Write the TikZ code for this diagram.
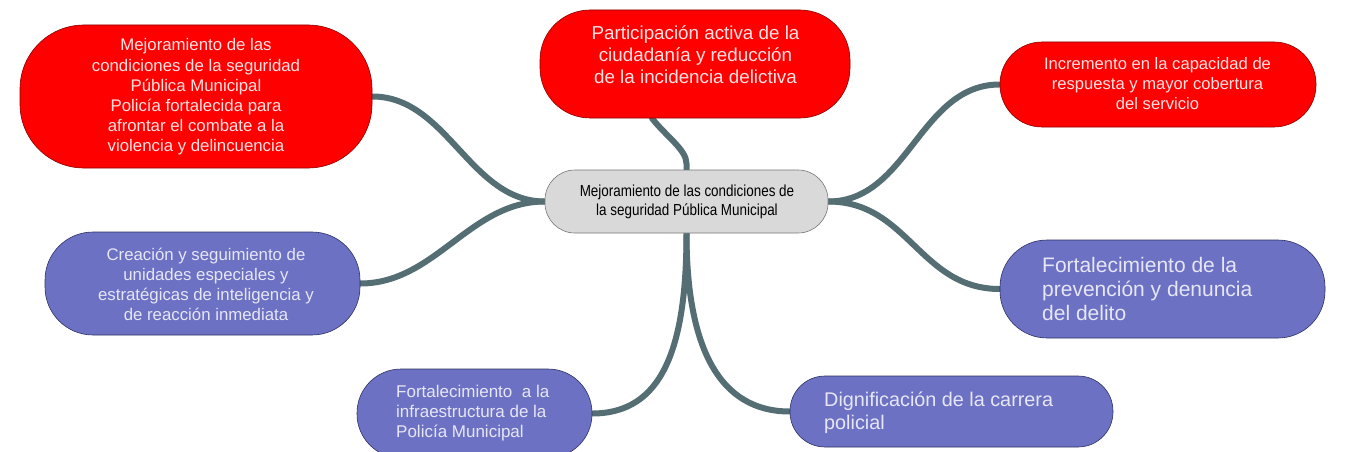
\documentclass[tikz,border=0pt]{standalone}
\usepackage{fontspec}
\setmainfont{Liberation Sans}
\newfontfamily\condfont[FakeStretch=0.84]{Liberation Sans}
\usetikzlibrary{backgrounds}
\definecolor{redfill}{HTML}{FF0000}
\definecolor{redline}{HTML}{8A0000}
\definecolor{purfill}{HTML}{6C71C4}
\definecolor{purline}{HTML}{2E3160}
\definecolor{grayfill}{HTML}{D9D9D9}
\definecolor{grayline}{HTML}{777777}
\definecolor{conncol}{HTML}{546E73}
\definecolor{redtxt}{HTML}{FFE2E2}
\definecolor{purtxt}{HTML}{E6E6F5}
\tikzset{
  redbox/.style={draw=redline, fill=redfill, line width=0.6pt, inner sep=0pt},
  purbox/.style={draw=purline, fill=purfill, line width=0.6pt, inner sep=0pt},
  graybox/.style={draw=grayline, fill=grayfill, line width=0.6pt, inner sep=0pt},
  redtext/.style={text=redtxt, align=center, inner sep=0pt},
  purtextc/.style={text=purtxt, align=center, inner sep=0pt},
  purtextl/.style={text=purtxt, align=left, inner sep=0pt, anchor=west},
  conn/.style={draw=conncol, line width=6pt, line cap=round}
}
\begin{document}
\begin{tikzpicture}[x=1pt, y=-1pt]
\useasboundingbox (0,0) rectangle (1350,452);
% boxes
\node[redbox, minimum width=352pt, minimum height=143pt, rounded corners=64pt] (tl) at (196,96.5) {};
\node[redbox, minimum width=310pt, minimum height=108pt, rounded corners=50pt] (tc) at (695,64) {};
\node[redbox, minimum width=316pt, minimum height=85pt, rounded corners=42pt] (tr) at (1158,84.5) {};
\node[graybox, minimum width=283pt, minimum height=63pt, rounded corners=30pt] (c) at (686.5,201.5) {};
\node[purbox, minimum width=315pt, minimum height=103pt, rounded corners=48pt] (lp) at (202.5,283.5) {};
\node[purbox, minimum width=325pt, minimum height=98pt, rounded corners=47pt] (rp) at (1162.5,289) {};
\node[purbox, minimum width=235pt, minimum height=89pt, rounded corners=44pt] (bl) at (474.5,413.5) {};
\node[purbox, minimum width=323pt, minimum height=71pt, rounded corners=35pt] (br) at (951.5,411.5) {};
% texts
\node[redtext, font=\fontsize{16.8}{20.2}\selectfont] (tl-t) at (196,97) {Mejoramiento de las\\condiciones de la seguridad\\Pública Municipal\\Policía fortalecida para\\afrontar el combate a la\\violencia y delincuencia};
\node[redtext, font=\fontsize{18.8}{22}\selectfont] (tc-t) at (695.5,55) {Participación activa de la\\ciudadanía y reducción\\de la incidencia delictiva};
\node[redtext, font=\fontsize{16.6}{20}\selectfont] (tr-t) at (1157.5,84) {Incremento en la capacidad de\\respuesta y mayor cobertura\\del servicio};
\node[align=center, inner sep=0pt, text=black, font=\condfont\fontsize{16}{19}\selectfont] (c-t) at (687,202) {Mejoramiento de las condiciones de\\la seguridad Pública Municipal};
\node[purtextc, font=\fontsize{16.8}{20}\selectfont] (lp-t) at (206,284) {Creación y seguimiento de\\unidades especiales y\\estratégicas de inteligencia y\\de reacción inmediata};
\node[purtextl, font=\fontsize{21}{24}\selectfont] (rp-t) at (1042,289) {Fortalecimiento de la\\prevención y denuncia\\del delito};
\node[purtextl, font=\fontsize{17}{19.8}\selectfont] (bl-t) at (396,413) {Fortalecimiento\ \ a la\\infraestructura de la\\Policía Municipal};
\node[purtextl, font=\fontsize{19.8}{23}\selectfont] (br-t) at (824,412.5) {Dignificación de la carrera\\policial};
% connectors
\begin{scope}[on background layer]
\draw[conn] (c.west) .. controls +(-75,0) and +(75,0) .. (tl.east);
\draw[conn] (c.west) .. controls +(-75,0) and +(75,0) .. (lp.east);
\draw[conn] (c.north) -- ++(0,-6) .. controls +(0,-14) and +(14,18) .. ([xshift=-43pt]tc.south);
\draw[conn] (c.east) .. controls +(80,0) and +(-80,0) .. (tr.west);
\draw[conn] (c.east) .. controls +(80,0) and +(-80,0) .. (rp.west);
\draw[conn] (c.south) .. controls +(0,115) and +(70,0) .. (bl.east);
\draw[conn] (c.south) .. controls +(0,115) and +(-70,0) .. (br.west);
\end{scope}
\end{tikzpicture}
\end{document}
